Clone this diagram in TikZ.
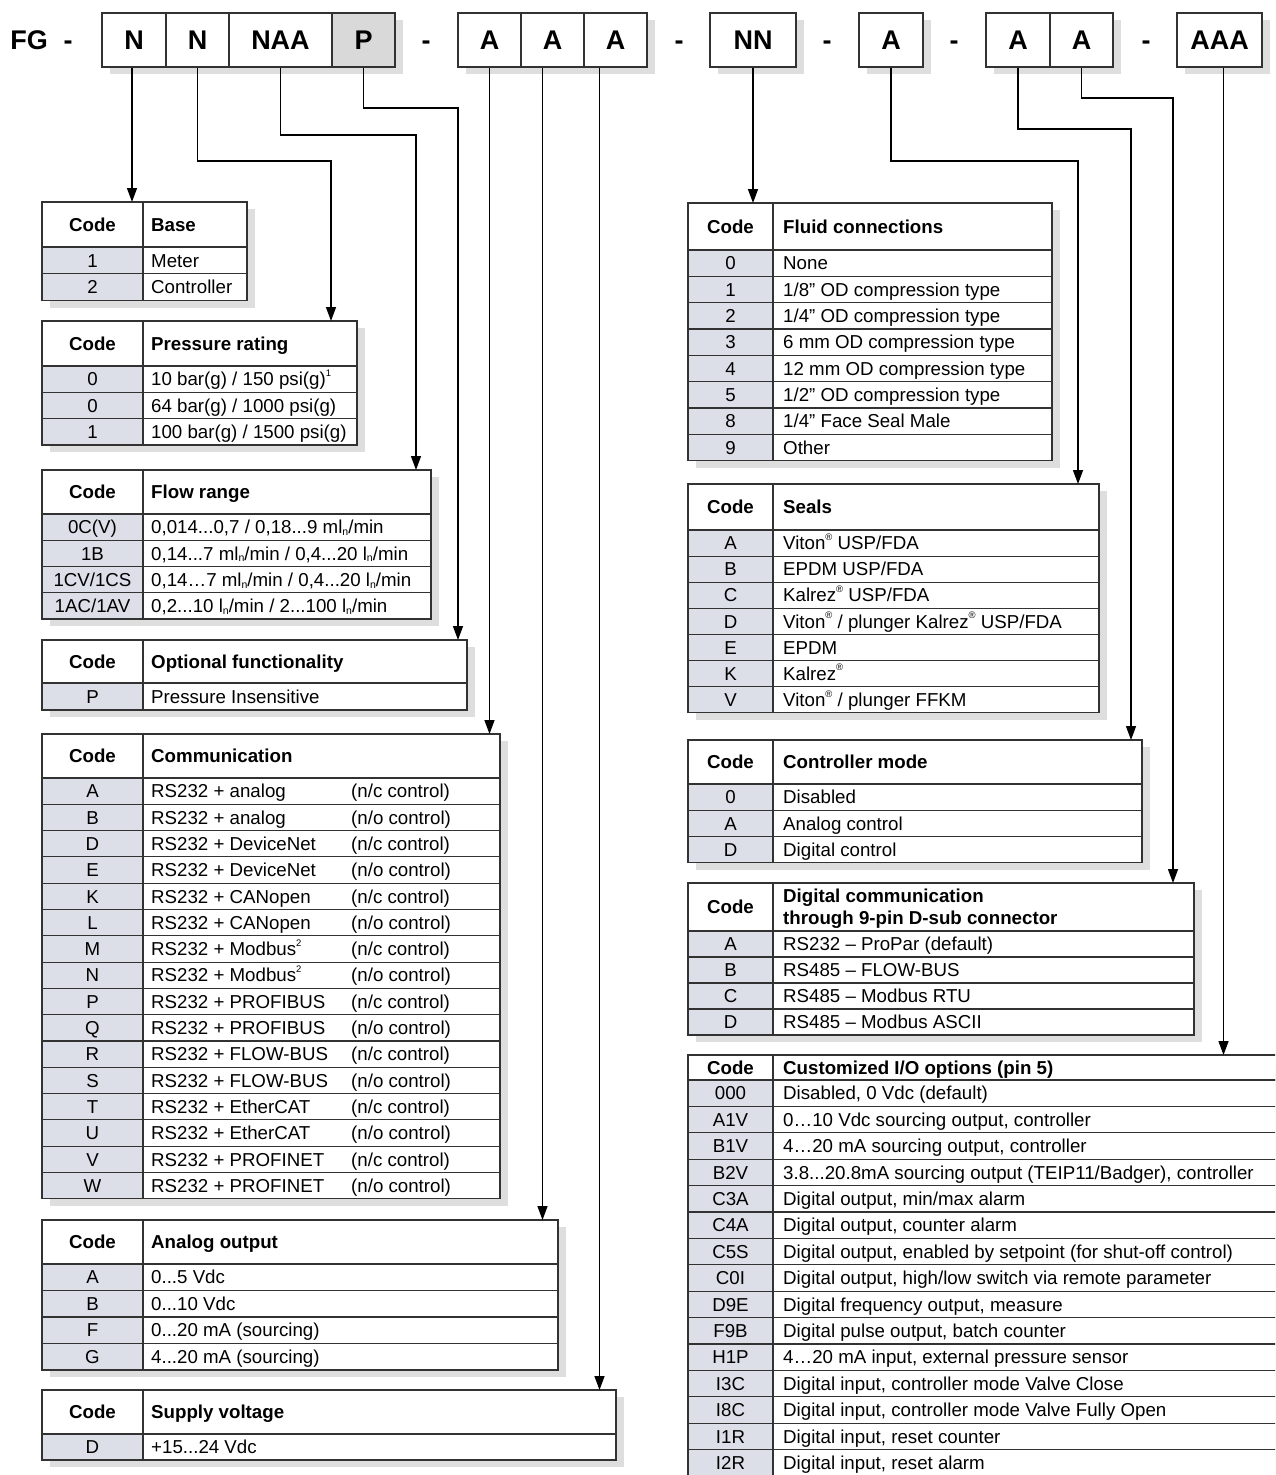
\documentclass[tikz,border=0pt]{standalone}
\usepackage{fontspec}
\setmainfont{Liberation Sans}
\usetikzlibrary{arrows.meta}
\definecolor{codefill}{RGB}{220,223,232}
\definecolor{shadowc}{RGB}{222,222,222}
\definecolor{pfill}{RGB}{217,217,217}
\definecolor{lineclr}{RGB}{50,50,50}

\newcommand\bodyf{\fontsize{18.7}{22}\selectfont}
\newcommand\hdrf{\fontsize{18.7}{22}\selectfont\bfseries}
\newcommand\bigf{\fontsize{27}{30}\selectfont\bfseries}
\newcommand\rsup[1]{\raisebox{0.5em}{\fontsize{9.5}{10}\selectfont #1}}
\newcommand\lsub[1]{\raisebox{-0.1em}{\fontsize{10.5}{11}\selectfont #1}}
\def\zzpad{8}

\tikzset{
  tline/.style={draw=lineclr, line width=1.2pt},
  rline/.style={draw=lineclr, line width=1.1pt},
  cell/.style={inner sep=0pt, font=\bodyf},
  hdr/.style={inner sep=0pt, font=\hdrf},
  conn/.style={draw=black, line width=1.4pt, -{Triangle[width=10pt,length=14pt]}},
  topbox/.style={draw=lineclr, line width=1.3pt, minimum height=54pt, inner sep=0pt, font=\bigf, fill=white},
  sepmark/.style={inner sep=0pt, font=\bigf, anchor=base},
}

% #1 name, #2 left, #3 top, #4 right, #5 code width, #6 header height, #7 rows, #8 row height, #9 title
\newcommand\tbl[9]{%
  \xdef\zzN{#1}\xdef\zzL{#2}\xdef\zzT{#3}\xdef\zzR{#4}\xdef\zzH{#8}%
  \pgfmathsetmacro\zza{#2+#5}\xdef\zzC{\zza}%
  \pgfmathsetmacro\zza{#3+#6}\xdef\zzY{\zza}%
  \pgfmathsetmacro\zza{#3+#6+#7*#8}\xdef\zzB{\zza}%
  \pgfmathsetmacro\zza{(#2+\zzC)/2}\xdef\zzM{\zza}%
  \pgfmathsetmacro\zza{#3+#6/2}\xdef\zzHm{\zza}%
  \xdef\zzI{0}%
  \fill[shadowc] (#2+8,#3+7) rectangle (#4+8,\zzB+7);
  \node[fill=white, inner sep=0pt, outer sep=0pt, minimum width=#4-#2, minimum height=\zzB-#3, anchor=north west] (#1) at (#2,#3) {};
  \fill[codefill] (#2,\zzY) rectangle (\zzC,\zzB);
  \draw[tline] (#2,#3) rectangle (#4,\zzB);
  \draw[tline] (#2,\zzY) -- (#4,\zzY);
  \draw[tline] (\zzC,#3) -- (\zzC,\zzB);
  \node[hdr, anchor=base] (#1-code) at (\zzM,\zzHm+6.7) {Code};
  \node[hdr, anchor=base west] (#1-title) at (\zzC+\zzpad,\zzHm+6.7) {#9};
}
\newcommand\trow[2]{%
  \pgfmathtruncatemacro\zza{\zzI+1}\xdef\zzI{\zza}%
  \pgfmathsetmacro\zza{\zzY+\zzH/2+6.7}\xdef\zzBl{\zza}%
  \draw[rline] (\zzL,\zzY) -- (\zzR,\zzY);
  \node[cell, anchor=base] (\zzN-c\zzI) at (\zzM,\zzBl) {#1};
  \node[cell, anchor=base west] (\zzN-t\zzI) at (\zzC+\zzpad,\zzBl) {#2};
  \pgfmathsetmacro\zza{\zzY+\zzH}\xdef\zzY{\zza}%
}
\newcommand\trowc[3]{%
  \trow{#1}{#2}%
  \node[cell, anchor=base west] (\zzN-x\zzI) at (351,\zzBl) {#3};
}

\begin{document}
\begin{tikzpicture}[x=1pt,y=-1pt]
\useasboundingbox (0,0) rectangle (1275,1475);
\fill[white] (0,0) rectangle (1275,1475);

% ---------- header code boxes ----------
\fill[shadowc] (110,20) rectangle (403,74);
\fill[shadowc] (466,20) rectangle (655,74);
\fill[shadowc] (718,20) rectangle (804,74);
\fill[shadowc] (867,20) rectangle (931,74);
\fill[shadowc] (994,20) rectangle (1121,74);
\fill[shadowc] (1185,20) rectangle (1270,74);

\node[sepmark] (fg) at (29,49.7) {FG};
\node[sepmark] (d0) at (68,49.7) {-};
\node[topbox, minimum width=64] (bN1) at (134,40) {N};
\node[topbox, minimum width=63] (bN2) at (197.5,40) {N};
\node[topbox, minimum width=103] (bNAA) at (280.5,40) {NAA};
\node[topbox, minimum width=63, fill=pfill] (bP) at (363.5,40) {P};
\node[sepmark] (d1) at (426,49.7) {-};
\node[topbox, minimum width=63] (bA1) at (489.5,40) {A};
\node[topbox, minimum width=63] (bA2) at (552.5,40) {A};
\node[topbox, minimum width=63] (bA3) at (615.5,40) {A};
\node[sepmark] (d2) at (679,49.7) {-};
\node[topbox, minimum width=86] (bNN) at (753,40) {NN};
\node[sepmark] (d3) at (827,49.7) {-};
\node[topbox, minimum width=64] (bA4) at (891,40) {A};
\node[sepmark] (d4) at (954,49.7) {-};
\node[topbox, minimum width=64] (bA5) at (1018,40) {A};
\node[topbox, minimum width=63] (bA6) at (1081.5,40) {A};
\node[sepmark] (d5) at (1146,49.7) {-};
\node[topbox, minimum width=85] (bAAA) at (1219.5,40) {AAA};

% ---------- left tables ----------
\def\zzpad{8}
\tbl{base}{42}{202}{247}{101}{45}{2}{26.85}{Base}
\trow{1}{Meter}
\trow{2}{Controller}

\tbl{press}{42}{321}{357}{101}{45}{3}{26.3}{Pressure rating}
\trow{0}{10 bar(g) / 150 psi(g)\rsup{1}}
\trow{0}{64 bar(g) / 1000 psi(g)}
\trow{1}{100 bar(g) / 1500 psi(g)}

\tbl{flow}{42}{470}{431}{101}{44}{4}{26.25}{Flow range}
\trow{0C(V)}{0,014...0,7 / 0,18...9 ml\lsub{n}/min}
\trow{1B}{0,14...7 ml\lsub{n}/min / 0,4...20 l\lsub{n}/min}
\trow{1CV/1CS}{0,14…7 ml\lsub{n}/min / 0,4...20 l\lsub{n}/min}
\trow{1AC/1AV}{0,2...10 l\lsub{n}/min / 2...100 l\lsub{n}/min}

\tbl{opt}{42}{640}{467}{101}{43}{1}{27}{Optional functionality}
\trow{P}{Pressure Insensitive}

\tbl{comm}{42}{734}{500}{101}{44}{16}{26.3}{Communication}
\trowc{A}{RS232 + analog}{(n/c control)}
\trowc{B}{RS232 + analog}{(n/o control)}
\trowc{D}{RS232 + DeviceNet}{(n/c control)}
\trowc{E}{RS232 + DeviceNet}{(n/o control)}
\trowc{K}{RS232 + CANopen}{(n/c control)}
\trowc{L}{RS232 + CANopen}{(n/o control)}
\trowc{M}{RS232 + Modbus\rsup{2}}{(n/c control)}
\trowc{N}{RS232 + Modbus\rsup{2}}{(n/o control)}
\trowc{P}{RS232 + PROFIBUS}{(n/c control)}
\trowc{Q}{RS232 + PROFIBUS}{(n/o control)}
\trowc{R}{RS232 + FLOW-BUS}{(n/c control)}
\trowc{S}{RS232 + FLOW-BUS}{(n/o control)}
\trowc{T}{RS232 + EtherCAT}{(n/c control)}
\trowc{U}{RS232 + EtherCAT}{(n/o control)}
\trowc{V}{RS232 + PROFINET}{(n/c control)}
\trowc{W}{RS232 + PROFINET}{(n/o control)}

\tbl{anout}{42}{1220}{558}{101}{44}{4}{26.5}{Analog output}
\trow{A}{0...5 Vdc}
\trow{B}{0...10 Vdc}
\trow{F}{0...20 mA (sourcing)}
\trow{G}{4...20 mA (sourcing)}

\tbl{supply}{42}{1390}{616}{101}{44}{1}{26}{Supply voltage}
\trow{D}{+15...24 Vdc}

% ---------- right tables ----------
\def\zzpad{10}
\tbl{fluid}{688}{203}{1052}{85}{47}{8}{26.33}{Fluid connections}
\trow{0}{None}
\trow{1}{1/8” OD compression type}
\trow{2}{1/4” OD compression type}
\trow{3}{6 mm OD compression type}
\trow{4}{12 mm OD compression type}
\trow{5}{1/2” OD compression type}
\trow{8}{1/4” Face Seal Male}
\trow{9}{Other}

\tbl{seals}{688}{484}{1099}{85}{46}{7}{26.1}{Seals}
\trow{A}{Viton\rsup{®} USP/FDA}
\trow{B}{EPDM USP/FDA}
\trow{C}{Kalrez\rsup{®} USP/FDA}
\trow{D}{Viton\rsup{®} / plunger Kalrez\rsup{®} USP/FDA}
\trow{E}{EPDM}
\trow{K}{Kalrez\rsup{®}}
\trow{V}{Viton\rsup{®} / plunger FFKM}

\tbl{ctrl}{688}{740}{1142}{85}{44}{3}{26.2}{Controller mode}
\trow{0}{Disabled}
\trow{A}{Analog control}
\trow{D}{Digital control}

\tbl{dig}{688}{883}{1194}{85}{48}{4}{26}{}
\node[hdr, anchor=base west] (dig-title1) at (783,902.5) {Digital communication};
\node[hdr, anchor=base west] (dig-title2) at (783,924) {through 9-pin D-sub connector};
\trow{A}{RS232 – ProPar (default)}
\trow{B}{RS485 – FLOW-BUS}
\trow{C}{RS485 – Modbus RTU}
\trow{D}{RS485 – Modbus ASCII}

\begin{scope}
\clip (0,0) rectangle (1275,1475);
\tbl{cust}{688}{1055}{1300}{85}{25}{15}{26.4}{Customized I/O options (pin 5)}
\trow{000}{Disabled, 0 Vdc (default)}
\trow{A1V}{0…10 Vdc sourcing output, controller}
\trow{B1V}{4…20 mA sourcing output, controller}
\trow{B2V}{3.8...20.8mA sourcing output (TEIP11/Badger), controller}
\trow{C3A}{Digital output, min/max alarm}
\trow{C4A}{Digital output, counter alarm}
\trow{C5S}{Digital output, enabled by setpoint (for shut-off control)}
\trow{C0I}{Digital output, high/low switch via remote parameter}
\trow{D9E}{Digital frequency output, measure}
\trow{F9B}{Digital pulse output, batch counter}
\trow{H1P}{4…20 mA input, external pressure sensor}
\trow{I3C}{Digital input, controller mode Valve Close}
\trow{I8C}{Digital input, controller mode Valve Fully Open}
\trow{I1R}{Digital input, reset counter}
\trow{I2R}{Digital input, reset alarm}
\end{scope}

% ---------- connectors ----------
\coordinate (k2) at (331,161);
\coordinate (k3) at (416,135);
\coordinate (k4) at (458,108);
\coordinate (k8) at (1078,161);
\coordinate (k9) at (1131,129);
\coordinate (k10) at (1173,98);
\coordinate (s1) at ([xshift=-2pt]bN1.south);
\coordinate (s2) at ([xshift=-10pt]bA2.south);
\coordinate (s3) at ([xshift=-16pt]bA3.south);
\coordinate (s4) at ([xshift=4pt]bAAA.south);

\draw[conn] (s1) -- (s1 |- base.north);
\draw[conn] (bN2.south) |- (k2) -- (k2 |- press.north);
\draw[conn] (bNAA.south) |- (k3) -- (k3 |- flow.north);
\draw[conn] (bP.south) |- (k4) -- (k4 |- opt.north);
\draw[conn] (bA1.south) -- (bA1.south |- comm.north);
\draw[conn] (s2) -- (s2 |- anout.north);
\draw[conn] (s3) -- (s3 |- supply.north);
\draw[conn] (bNN.south) -- (bNN.south |- fluid.north);
\draw[conn] (bA4.south) |- (k8) -- (k8 |- seals.north);
\draw[conn] (bA5.south) |- (k9) -- (k9 |- ctrl.north);
\draw[conn] (bA6.south) |- (k10) -- (k10 |- dig.north);
\draw[conn] (s4) -- (s4 |- cust.north);
\end{tikzpicture}
\end{document}
